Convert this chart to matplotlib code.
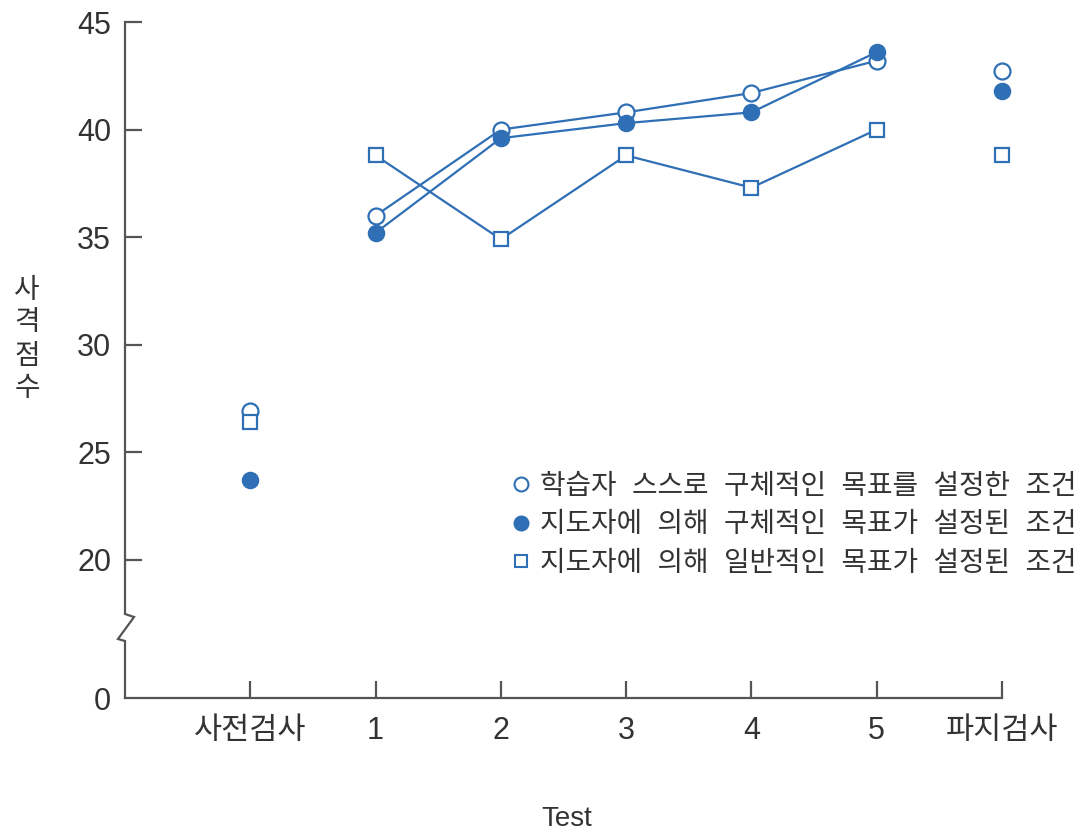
import matplotlib
matplotlib.use('Agg')
import matplotlib.pyplot as plt
from matplotlib.lines import Line2D

plt.rcParams['font.family'] = ['Liberation Sans', 'Noto Sans CJK KR']

# --- data
categories = ['사전검사', '1', '2', '3', '4', '5', '파지검사']
self_specific = [26.9, 36.0, 40.0, 40.8, 41.7, 43.2, 42.7]
guided_specific = [23.7, 35.2, 39.6, 40.3, 40.8, 43.6, 41.8]
guided_general = [26.4, 38.8, 34.9, 38.8, 37.3, 40.0, 38.8]
labels = ['학습자 스스로 구체적인 목표를 설정한 조건',
          '지도자에 의해 구체적인 목표가 설정된 조건',
          '지도자에 의해 일반적인 목표가 설정된 조건']
ytick_vals = [20, 25, 30, 35, 40, 45]

# broken axis: "0" is drawn just below the break
y_zero = 13.58

blue = '#2f6fb5'
axcol = '#555555'
txtcol = '#333333'

fig = plt.figure(figsize=(10.86, 8.35), dpi=100)
ax = fig.add_axes([125 / 1086, 1 - 698 / 835, 877 / 1086, 676 / 835])

x = list(range(len(categories)))
styles = [
    (self_specific, dict(marker='o', markerfacecolor='white', markersize=11.5)),
    (guided_specific, dict(marker='o', markerfacecolor=blue, markersize=11)),
    (guided_general, dict(marker='s', markerfacecolor='white', markersize=10)),
]
for vals, st in styles:
    # lines only join test 1..5
    ax.plot(x[1:6], vals[1:6], color=blue, lw=1.6, zorder=2)
    ax.plot(x, vals, linestyle='none', color=blue, markeredgecolor=blue,
            markeredgewidth=1.6, clip_on=False, zorder=3, **st)

ax.set_xlim(-1, 6)
ax.set_ylim(y_zero, 45)
ax.set_xticks(x)
ax.set_xticklabels(categories)
ax.set_yticks([y_zero] + ytick_vals)
ax.set_yticklabels(['0'] + [str(v) for v in ytick_vals])

for s in ['top', 'right', 'left']:
    ax.spines[s].set_visible(False)
ax.spines['bottom'].set_color(axcol)
ax.spines['bottom'].set_linewidth(1.6)
ax.tick_params(direction='in', length=12, width=1.6, color=axcol,
               labelsize=22, labelcolor=txtcol)
ax.tick_params(axis='x', pad=13)
ax.tick_params(axis='y', pad=10)
# no tick at "0" (it's the corner)
ax.yaxis.get_major_ticks()[0].tick1line.set_visible(False)

# left spine with a break mark
bx = [0, 0, 0.0103, -0.0080, 0, 0]
by = [1, 0.1243, 0.1198, 0.0873, 0.0843, 0]
ax.plot(bx, by, transform=ax.transAxes, color=axcol, lw=1.6,
        clip_on=False, solid_joinstyle='miter', zorder=4)

fig.text(27 / 1086, 1 - 340 / 835, '사\n격\n점\n수', ha='center', va='center',
         fontsize=20, color=txtcol, linespacing=1.35)
fig.text(567 / 1086, 1 - 819 / 835, 'Test', ha='center', va='center',
         fontsize=20, color=txtcol)

handles = [
    Line2D([], [], linestyle='none', marker='o', markerfacecolor='white',
           markeredgecolor=blue, markeredgewidth=1.5, markersize=10),
    Line2D([], [], linestyle='none', marker='o', markerfacecolor=blue,
           markeredgecolor=blue, markeredgewidth=1.5, markersize=10),
    Line2D([], [], linestyle='none', marker='s', markerfacecolor='white',
           markeredgecolor=blue, markeredgewidth=1.5, markersize=9),
]
leg = ax.legend(handles, [l.replace(' ', '  ') for l in labels],
                loc='upper left',
                bbox_to_anchor=(507 / 1086, 1 - 474 / 835),
                bbox_transform=fig.transFigure, frameon=False,
                fontsize=20, handletextpad=0.2, handlelength=1.0,
                labelspacing=0.45, borderaxespad=0, borderpad=0)
for t in leg.get_texts():
    t.set_color(txtcol)

fig.savefig('out.png', dpi=100)
